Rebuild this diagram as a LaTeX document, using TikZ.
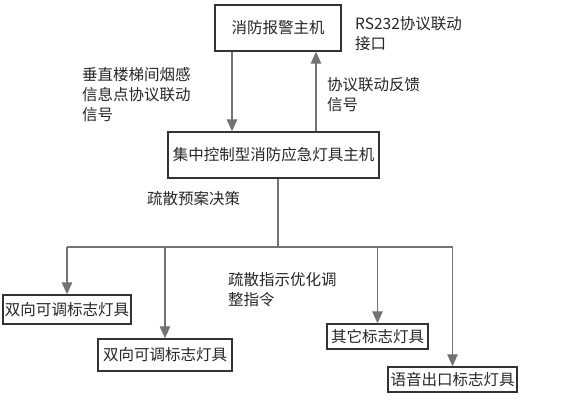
\documentclass[tikz,border=0pt]{standalone}
\usepackage{fontspec}
\setmainfont{Noto Sans CJK SC}
\usetikzlibrary{arrows.meta}
\begin{document}
\begin{tikzpicture}[x=1pt,y=-1pt,
  box/.style={draw=black!80,line width=1.4pt,inner sep=0pt,font=\fontsize{15.5}{20}\selectfont,text=black!85},
  lbl/.style={inner sep=0pt,anchor=west,align=left,font=\fontsize{15.5}{20}\selectfont,text=black!85},
  arr/.style={draw=black!55,line width=1.2pt,-{Triangle[length=12pt,width=10.5pt]}},
  ln/.style={draw=black!55,line width=1.2pt}]
\useasboundingbox (0,0) rectangle (585,405);
\node[box,minimum width=126pt,minimum height=46pt] (top) at (278,28) {消防报警主机};
\node[box,minimum width=211pt,minimum height=46pt] (mid) at (273.5,155) {集中控制型消防应急灯具主机};
\node[box,minimum width=128pt,minimum height=29pt] (b1) at (67,309.5) {双向可调标志灯具};
\node[box,minimum width=134pt,minimum height=32pt] (b2) at (165,355) {双向可调标志灯具};
\node[box,minimum width=101pt,minimum height=25pt] (b3) at (377.5,336.5) {其它标志灯具};
\node[box,minimum width=129pt,minimum height=25pt] (b4) at (452.5,379.5) {语音出口标志灯具};
\node[lbl] (l1) at (355,33.5) {RS232协议联动\\接口};
\node[lbl] (l2) at (82,95) {垂直楼梯间烟感\\信息点协议联动\\信号};
\node[lbl] (l3) at (327,95) {协议联动反馈\\信号};
\node[lbl] (l4) at (147,199) {疏散预案决策};
\node[lbl] (l5) at (228,290) {疏散指示优化调\\整指令};
\coordinate (d1) at (232,0);
\coordinate (u1) at (316,0);
\coordinate (j) at (278,247);
\draw[arr] (d1 |- top.south) -- (d1 |- mid.north);
\draw[arr] (u1 |- mid.north) -- (u1 |- top.south);
\draw[ln] (mid.south -| j) -- (j);
\draw[ln] (b1.north |- j) -- (b4.north |- j);
\draw[arr] (b1.north |- j) -- (b1.north);
\draw[arr] (b2.north |- j) -- (b2.north);
\draw[arr] (b3.north |- j) -- (b3.north);
\draw[arr] (b4.north |- j) -- (b4.north);
\end{tikzpicture}
\end{document}
